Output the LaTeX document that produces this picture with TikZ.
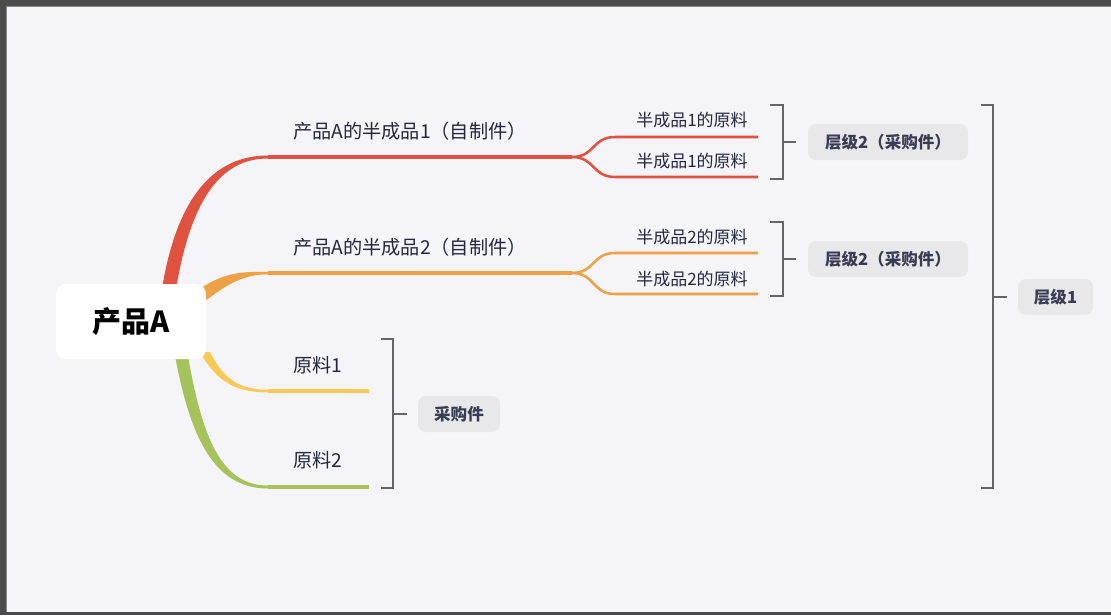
\documentclass[tikz,border=0pt]{standalone}
\usepackage{fontspec}
\setmainfont{Noto Sans CJK SC}
\definecolor{frame}{HTML}{4B4B4B}
\definecolor{frameedge}{HTML}{8A8A8A}
\definecolor{bg}{HTML}{F4F4F9}
\definecolor{txt}{HTML}{232840}
\definecolor{cred}{HTML}{E0513F}
\definecolor{corange}{HTML}{F0A045}
\definecolor{cyellow}{HTML}{F6CA55}
\definecolor{cgreen}{HTML}{A6C35B}
\definecolor{brk}{HTML}{666666}
\definecolor{boxfill}{HTML}{E8E8EB}
\begin{document}
\begin{tikzpicture}[x=0.75pt,y=-0.75pt,
  branchlabel/.style={anchor=west, text=txt, font=\fontsize{14.4}{16}\selectfont, inner sep=0pt},
  sublabel/.style={anchor=east, text=txt, font=\fontsize{12.75}{15}\selectfont, inner sep=0pt},
  tagbox/.style={fill=boxfill, rounded corners=6pt, text=txt!90!white, font=\fontsize{12.4}{15}\selectfont\bfseries, minimum height=27pt, inner sep=0pt},
  bracket/.style={draw=brk, line width=1.9pt},
  mainline/.style={line width=2.3pt},
  subline/.style={line width=1.9pt},
  rootbox/.style={fill=white, rounded corners=7.5pt, minimum width=112.5pt, minimum height=56.25pt, text=black, font=\fontsize{21.75}{24}\selectfont\bfseries}]
\useasboundingbox (0,0) rectangle (1111,615);
% frame and background
\fill[frame] (0,0) rectangle (1111,615);
\fill[bg] (7,7) rectangle (1111,612);
\draw[frameedge, line width=0.8pt] (6.5,612) -- (6.5,6.5) -- (1111,6.5);

% tapered branches from the root
\fill[cred] (161,295) .. controls (176,195) and (215,155.5) .. (268,155.5) -- (268,158.5) .. controls (220,158.5) and (190,200) .. (175,295) -- cycle;
\fill[corange] (198,290) .. controls (225,272) and (240,271.8) .. (268,271.8) -- (268,274.3) .. controls (245,274.3) and (228,283) .. (204,302) -- cycle;
\fill[cyellow] (200,352) .. controls (218,384) and (238,392.3) .. (268,392.3) -- (268,389.7) .. controls (240,389.7) and (224,380) .. (210,352) -- cycle;
\fill[cgreen] (174,350) .. controls (190,440) and (215,488.5) .. (268,488.5) -- (268,485.5) .. controls (222,485.5) and (202,440) .. (187,350) -- cycle;

% named points
\coordinate (r1) at (268,157);
\coordinate (f1) at (572,157);
\coordinate (e1a) at (758,137);
\coordinate (e1b) at (758,177);
\coordinate (r2) at (268,273);
\coordinate (f2) at (572,273);
\coordinate (e2a) at (758,253);
\coordinate (e2b) at (758,294);
\coordinate (r3) at (268,391);
\coordinate (e3) at (369,391);
\coordinate (r4) at (268,487);
\coordinate (e4) at (369,487);

% horizontal branch lines with forks
\draw[cred, mainline] (r1) -- (f1);
\draw[cred, subline] (f1) .. controls (595,157) and (592,137) .. (615,137) -- (e1a);
\draw[cred, subline] (f1) .. controls (595,157) and (592,177) .. (615,177) -- (e1b);
\draw[corange, mainline] (r2) -- (f2);
\draw[corange, subline] (f2) .. controls (595,273) and (592,253) .. (615,253) -- (e2a);
\draw[corange, subline] (f2) .. controls (595,273) and (592,294) .. (615,294) -- (e2b);
\draw[cyellow, mainline] (r3) -- (e3);
\draw[cgreen, mainline] (r4) -- (e4);

% root
\node[rootbox] (root) at (131,321.5) {产品A};

% labels
\node[branchlabel] (l1) at (293,131) {产品A的半成品1（自制件）};
\node[branchlabel] (l2) at (293,247) {产品A的半成品2（自制件）};
\node[branchlabel] (l3) at (293,365) {原料1};
\node[branchlabel] (l4) at (293,460) {原料2};
\node[sublabel] (s1a) at (748,120) {半成品1的原料};
\node[sublabel] (s1b) at (748,161) {半成品1的原料};
\node[sublabel] (s2a) at (748,237) {半成品2的原料};
\node[sublabel] (s2b) at (748,279) {半成品2的原料};

% tag boxes
\node[tagbox, minimum width=120pt] (t1) at (888,142) {层级2（采购件）};
\node[tagbox, minimum width=120pt] (t2) at (888,259) {层级2（采购件）};
\node[tagbox, minimum width=61.5pt] (t3) at (459,414) {采购件};
\node[tagbox, minimum width=56.25pt] (t4) at (1055.5,297) {层级1};

% brackets
\draw[bracket] (770,105) -- (783,105) -- (783,179) -- (770,179);
\draw[bracket] (783,142) -- ([xshift=-9pt]t1.west);
\draw[bracket] (770,222) -- (783,222) -- (783,296) -- (770,296);
\draw[bracket] (783,259) -- ([xshift=-9pt]t2.west);
\draw[bracket] (381,339) -- (393,339) -- (393,488) -- (381,488);
\draw[bracket] (393,414) -- ([xshift=-8pt]t3.west);
\draw[bracket] (981,105) -- (993,105) -- (993,488) -- (981,488);
\draw[bracket] (993,297) -- ([xshift=-8pt]t4.west);
\end{tikzpicture}
\end{document}
